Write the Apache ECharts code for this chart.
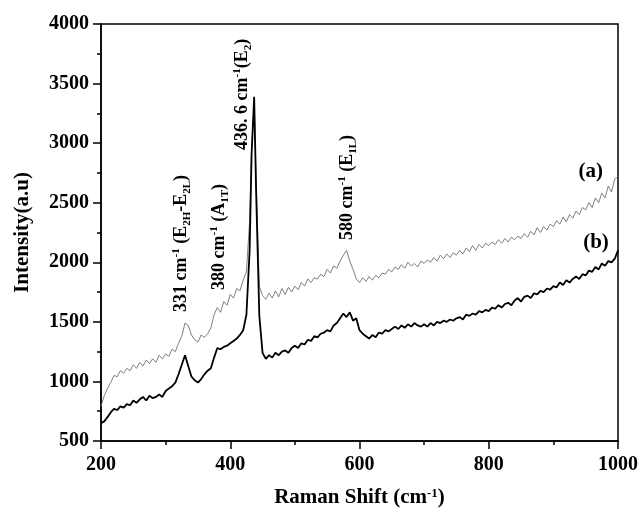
<!DOCTYPE html>
<html>
<head>
<meta charset="utf-8">
<script src="https://cdn.jsdelivr.net/npm/echarts@6/dist/echarts.min.js"></script>
<style>html,body{margin:0;padding:0;background:#fff}#c{width:641px;height:513px}</style>
</head>
<body>
<div id="c"></div>
<script>
// Raman shift (cm^-1)
var shift = [
 200,205,210,215,220,225,230,235,240,245,
 250,255,260,265,270,275,280,285,290,295,
 300,305,310,315,320,325,330,335,340,345,
 350,355,360,365,370,375,380,385,390,395,
 400,405,410,415,420,425,430,433,437,440,445,
 450,455,460,465,470,475,480,485,490,495,
 500,505,510,515,520,525,530,535,540,545,
 550,555,560,565,570,575,580,585,590,595,
 600,605,610,615,620,625,630,635,640,645,
 650,655,660,665,670,675,680,685,690,695,
 700,705,710,715,720,725,730,735,740,745,
 750,755,760,765,770,775,780,785,790,795,
 800,805,810,815,820,825,830,835,840,845,
 850,855,860,865,870,875,880,885,890,895,
 900,905,910,915,920,925,930,935,940,945,
 950,955,960,965,970,975,980,985,990,995,
 1000
];
// curve (a), thin grey
var intensityA = [
 790,880,940,990,1050,1040,1090,1070,1110,1090,
 1140,1110,1160,1130,1180,1150,1190,1160,1220,1190,
 1230,1210,1270,1250,1320,1380,1490,1470,1390,1350,
 1330,1390,1370,1400,1450,1560,1620,1580,1670,1640,
 1730,1700,1780,1760,1850,1920,2350,2950,3330,2700,1800,
 1720,1690,1740,1700,1760,1710,1780,1730,1790,1750,
 1800,1770,1830,1800,1860,1830,1870,1860,1900,1880,
 1940,1910,1970,1950,2010,2060,2100,2010,1940,1860,
 1830,1870,1840,1880,1850,1890,1870,1910,1900,1940,
 1920,1960,1940,1980,1950,2000,1970,1990,1960,2010,
 1990,2020,2000,2040,2010,2060,2030,2070,2040,2080,
 2060,2100,2070,2120,2090,2140,2100,2150,2120,2160,
 2140,2170,2150,2190,2160,2200,2170,2210,2190,2220,
 2200,2240,2210,2260,2230,2290,2250,2300,2270,2320,
 2300,2350,2320,2380,2340,2400,2370,2430,2400,2460,
 2440,2500,2460,2540,2500,2580,2540,2640,2590,2700,
 2720
];
// curve (b), thick black
var intensityB = [
 650,665,700,740,770,760,790,780,810,800,
 840,820,850,870,840,880,860,870,890,870,
 920,940,960,990,1060,1140,1220,1130,1040,1010,
 990,1020,1060,1090,1110,1200,1280,1270,1290,1300,
 1320,1340,1360,1390,1430,1560,2100,2900,3390,2600,1550,
 1240,1190,1220,1200,1240,1220,1250,1260,1240,1280,
 1300,1280,1320,1310,1350,1340,1380,1370,1400,1410,
 1430,1420,1470,1490,1530,1570,1540,1580,1510,1530,
 1430,1400,1380,1360,1390,1370,1410,1400,1430,1420,
 1440,1460,1440,1470,1450,1480,1460,1490,1470,1460,
 1480,1460,1490,1470,1500,1490,1510,1500,1520,1510,
 1530,1540,1520,1560,1550,1570,1560,1590,1580,1600,
 1590,1620,1610,1640,1620,1650,1660,1640,1680,1700,
 1670,1710,1720,1700,1740,1730,1760,1750,1780,1770,
 1800,1790,1830,1810,1850,1830,1860,1880,1860,1900,
 1890,1930,1920,1960,1940,1990,1970,2010,2000,2030,
 2100
];
// annotation anchors (data coordinates) and texts
var noteText = [
 '331 cm{sup|-1} (E{sub|2H}-E{sub|2L})',
 '380 cm{sup|-1} (A{sub|1T})',
 '436. 6 cm{sup|-1}(E{sub|2})',
 '580 cm{sup|-1} (E{sub|1L})'
];
var noteX = [325, 383, 419, 581];
var noteY = [1583, 1768, 2943, 2188];
var curveLabels = ['(a)', '(b)'];
var curveLabelX = [958, 966];
var curveLabelY = [2759, 2162];

var FONT = '"Liberation Serif","Times New Roman",serif';
function pairs(xs, ys){ var r=[]; for (var i=0;i<xs.length;i++) r.push([xs[i], ys[i]]); return r; }
function plain(v){ return String(v); }

var chart = echarts.init(document.getElementById('c'));
var option = {
  animation: false,
  backgroundColor: '#fff',
  grid: { left: 101, right: 21, top: 24, bottom: 72, show: true, borderColor: '#000', borderWidth: 1.5, backgroundColor: 'transparent' },
  xAxis: {
    type: 'value', min: 200, max: 1000, interval: 200,
    name: 'Raman Shift (cm{sup|-1})', nameLocation: 'middle', nameGap: 46,
    nameTextStyle: { fontFamily: FONT, fontWeight: 'bold', fontSize: 21, color: '#000',
      rich: { sup: { fontFamily: FONT, fontWeight: 'bold', fontSize: 13, color: '#000', verticalAlign: 'top', padding: [0,0,8,0] } } },
    axisLine: { lineStyle: { color: '#000', width: 1.5 } },
    axisTick: { show: true, inside: false, length: 8, lineStyle: { color: '#000', width: 1.5 } },
    minorTick: { show: true, splitNumber: 2, length: 4, lineStyle: { color: '#000', width: 1.5 } },
    splitLine: { show: false },
    axisLabel: { fontFamily: FONT, fontWeight: 'bold', fontSize: 20, color: '#000', margin: 14, formatter: plain }
  },
  yAxis: {
    type: 'value', min: 500, max: 4000, interval: 500,
    name: 'Intensity(a.u)', nameLocation: 'middle', nameGap: 68,
    nameTextStyle: { fontFamily: FONT, fontWeight: 'bold', fontSize: 21, color: '#000' },
    axisLine: { show: true, lineStyle: { color: '#000', width: 1.5 } },
    axisTick: { show: true, inside: false, length: 8, lineStyle: { color: '#000', width: 1.5 } },
    minorTick: { show: true, splitNumber: 2, length: 4, lineStyle: { color: '#000', width: 1.5 } },
    splitLine: { show: false },
    axisLabel: { fontFamily: FONT, fontWeight: 'bold', fontSize: 20, color: '#000', margin: 12, formatter: plain }
  },
  series: [
    { name: '(a)', type: 'line', data: pairs(shift, intensityA), showSymbol: false, symbol: 'none',
      lineStyle: { color: '#707070', width: 0.9 }, z: 2 },
    { name: '(b)', type: 'line', data: pairs(shift, intensityB), showSymbol: false, symbol: 'none',
      lineStyle: { color: '#000', width: 1.8 }, z: 3 }
  ]
};
chart.setOption(option);

var rich = {
  sup: { fontFamily: FONT, fontWeight: 'bold', fontSize: 11, fill: '#000', verticalAlign: 'top', lineHeight: 22 },
  sub: { fontFamily: FONT, fontWeight: 'bold', fontSize: 11, fill: '#000', verticalAlign: 'bottom', lineHeight: 22 }
};
var els = [];
for (var i = 0; i < noteText.length; i++) {
  var p = chart.convertToPixel({ gridIndex: 0 }, [noteX[i], noteY[i]]);
  els.push({ type: 'text', x: p[0], y: p[1], rotation: Math.PI / 2, z: 10,
    style: { text: noteText[i], fontFamily: FONT, fontWeight: 'bold', fontSize: 18, fill: '#000',
      align: 'left', verticalAlign: 'middle', lineHeight: 22, rich: rich } });
}
for (var j = 0; j < curveLabels.length; j++) {
  var q = chart.convertToPixel({ gridIndex: 0 }, [curveLabelX[j], curveLabelY[j]]);
  els.push({ type: 'text', x: q[0], y: q[1], z: 10,
    style: { text: curveLabels[j], fontFamily: FONT, fontWeight: 'bold', fontSize: 21, fill: '#000',
      align: 'center', verticalAlign: 'middle' } });
}
chart.setOption({ graphic: els });
</script>
</body>
</html>
